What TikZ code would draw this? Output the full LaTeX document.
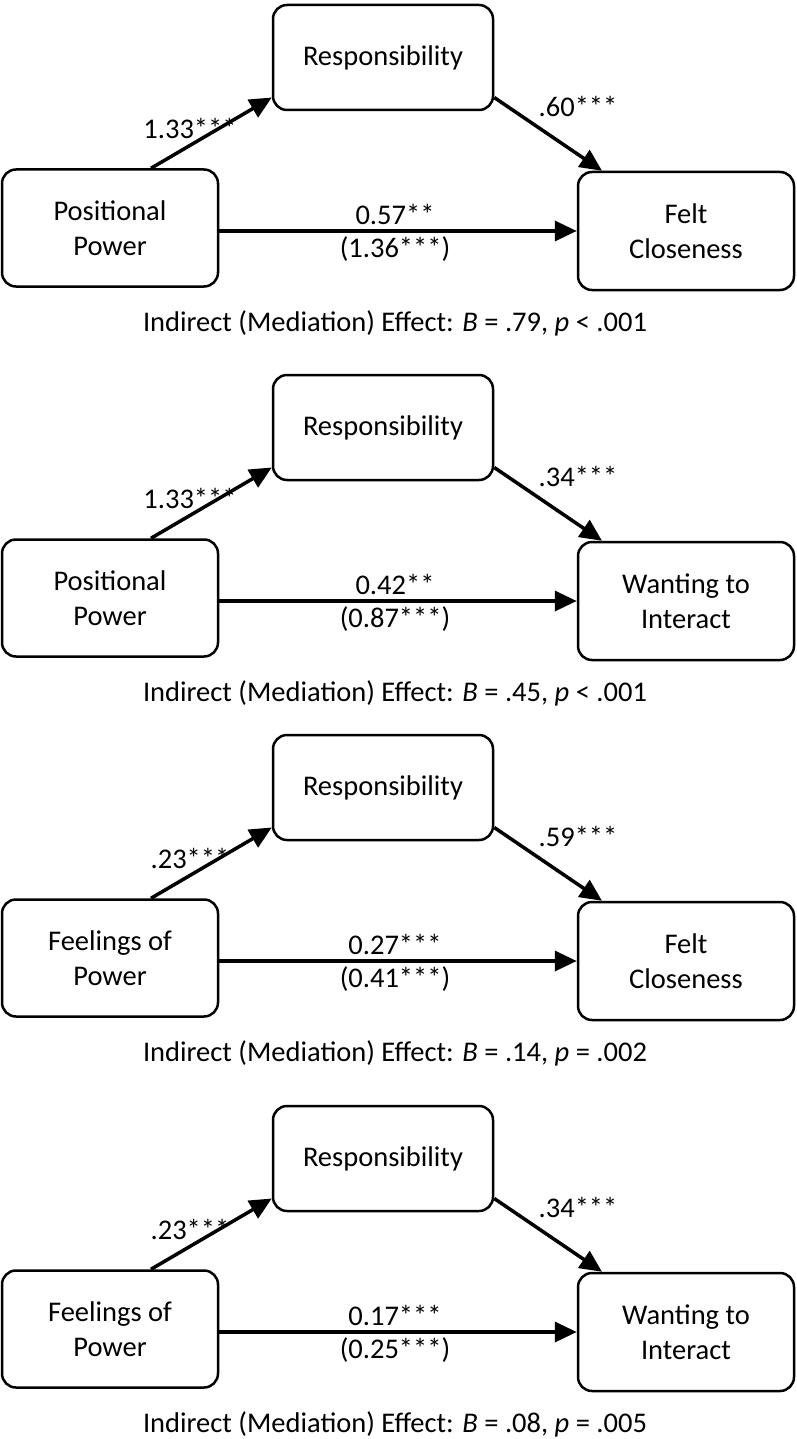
\documentclass[tikz,border=0pt]{standalone}
\usepackage{fontspec}
\setmainfont{Carlito}
\usetikzlibrary{arrows.meta}

\tikzset{
  var/.style={draw, line width=2.5pt, rounded corners=14pt, align=center,
    font=\fontsize{28.5}{35}\selectfont},
  effect/.style={line width=3.5pt, -{Triangle[length=22pt,width=20pt]}},
  coef/.style={font=\fontsize{28.5}{34}\selectfont, inner sep=0pt},
}

\begin{document}
\begin{tikzpicture}[x=1pt, y=-1pt]
        \useasboundingbox (0,0) rectangle (796,1439);

        \foreach \i/\oy/\pred/\outc/\ca/\cb/\cc/\cd/\ind in {
            1/0/{Positional\\Power}/{Felt\\Closeness}/1.33***/.60***/0.57**/(1.36***)/{\textit{B} = .79, \textit{p} < .001},
            2/370/{Positional\\Power}/{Wanting to\\Interact}/1.33***/.34***/0.42**/(0.87***)/{\textit{B} = .45, \textit{p} < .001},
            3/730/{Feelings of\\Power}/{Felt\\Closeness}/.23***/.59***/0.27***/(0.41***)/{\textit{B} = .14, \textit{p} = .002},
            4/1101/{Feelings of\\Power}/{Wanting to\\Interact}/.23***/.34***/0.17***/(0.25***)/{\textit{B} = .08, \textit{p} = .005}}
        {
            \node[var, minimum width=220pt, minimum height=105pt] (resp\i) at (383, \oy+57.5) {Responsibility};
            \node[var, minimum width=216pt, minimum height=117pt] (pred\i) at (110, \oy+228) {\pred};
            \node[var, minimum width=216pt, minimum height=118pt] (out\i) at (686, \oy+231) {\outc};

            \draw[effect] ([xshift=41pt]pred\i.north) -- ([yshift=-40pt]resp\i.west);
            \draw[effect] ([yshift=-40pt]resp\i.east) -- ([xshift=-84pt]out\i.north);
            \draw[effect] (pred\i.east |- out\i.west) -- (out\i.west);

            \node[coef] (a\i) at (190, \oy+128) {\ca};
            \node[coef] (b\i) at (578, \oy+106) {\cb};
            \node[coef] (c\i) at (395, \oy+214) {\cc};
            \node[coef] (d\i) at (395, \oy+249) {\cd};

            % indirect effect under each model
            \node[coef] (ind\i) at (395, \oy+323) {Indirect (Mediation) Effect: \ind};
        }
\end{tikzpicture}
\end{document}
